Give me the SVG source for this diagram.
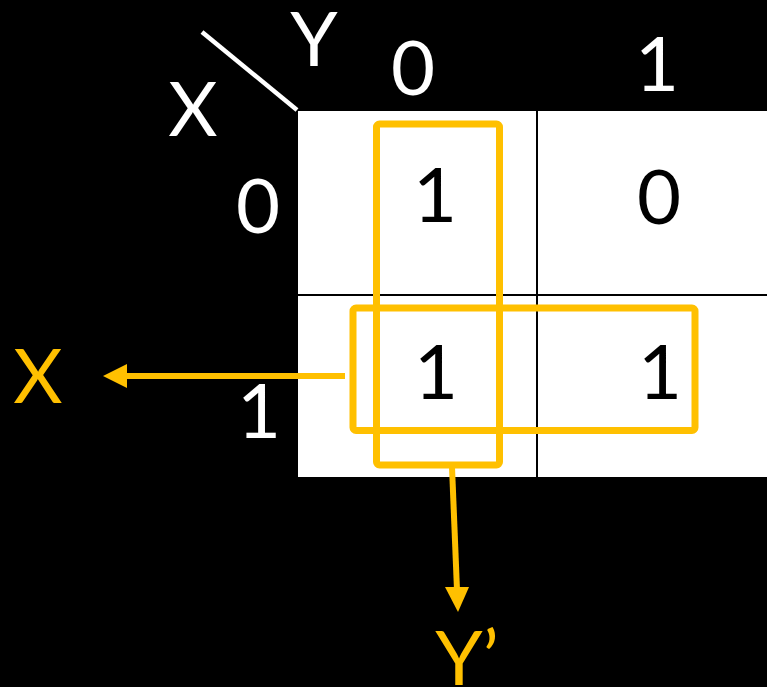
<svg xmlns="http://www.w3.org/2000/svg" width="767" height="687" viewBox="0 0 767 687">
  <style>
    text { font-family: Lato, "Open Sans", "Liberation Sans", sans-serif; font-size: 76px; text-anchor: middle; }
    .w { fill: #ffffff; }
    .k { fill: #000000; }
    .y { fill: #FFC000; }
    .grid { stroke: #000000; stroke-width: 2; }
    .loop { fill: none; stroke: #FFC000; stroke-width: 7; }
    .conn { stroke: #FFC000; stroke-width: 6; fill: none; }
  </style>
  <rect x="0" y="0" width="767" height="687" fill="#000000"/>

  <g id="header">
    <line x1="202" y1="32" x2="297" y2="110" stroke="#ffffff" stroke-width="4.5"/>
    <text class="w" x="193" y="136">X</text>
    <text class="w" x="314" y="66">Y</text>
    <text class="w" x="413" y="95">0</text>
    <text class="w" x="657" y="91">1</text>
    <text class="w" x="258" y="233">0</text>
    <text class="w" x="259" y="438">1</text>
  </g>

  <g id="kmap">
    <rect x="298" y="111" width="469" height="366" fill="#ffffff"/>
    <line class="grid" x1="537" y1="111" x2="537" y2="477"/>
    <line class="grid" x1="298" y1="295" x2="767" y2="295"/>
    <g id="cell00"><text class="k" x="435" y="222">1</text></g>
    <g id="cell01"><text class="k" x="659" y="224">0</text></g>
    <g id="cell10"><text class="k" x="436" y="399">1</text></g>
    <g id="cell11"><text class="k" x="660" y="399">1</text></g>
  </g>

  <g id="groupY">
    <rect class="loop" x="376.5" y="124" width="123" height="341" rx="3"/>
  </g>
  <g id="groupX">
    <rect class="loop" x="353" y="308" width="342" height="122.5" rx="3"/>
  </g>

  <g id="connectors">
    <line class="conn" x1="345" y1="376" x2="124" y2="376"/>
    <polygon points="103,376 127,364 127,388" fill="#FFC000"/>
    <line class="conn" x1="452" y1="467" x2="457" y2="590"/>
    <polygon points="458,612 445,587 469,587" fill="#FFC000"/>
  </g>

  <g id="labelX">
    <text class="y" x="38" y="403">X</text>
  </g>
  <g id="labelY">
    <text class="y" x="467" y="685">Y’</text>
  </g>
</svg>
